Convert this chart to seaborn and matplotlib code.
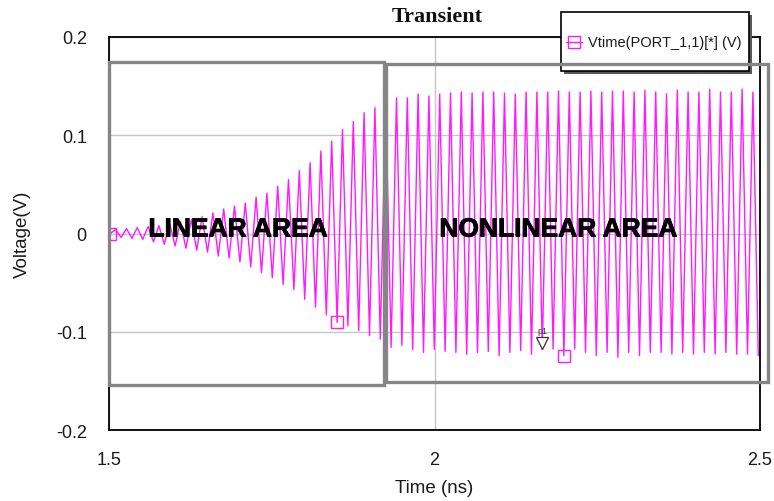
import numpy as np
import pandas as pd
import matplotlib
matplotlib.use("Agg")
import matplotlib.pyplot as plt
import matplotlib.transforms as mtransforms
import matplotlib.patheffects as pe
from matplotlib.patches import Rectangle
from matplotlib.lines import Line2D
import seaborn as sns

# ---- transient waveform: per-cycle extremes (V) ----
peak_v = [0.004, 0.005, 0.006, 0.007, 0.008, 0.010, 0.012, 0.014, 0.017, 0.021,
          0.025, 0.028, 0.031, 0.037, 0.041, 0.048, 0.055, 0.064, 0.072, 0.084,
          0.094, 0.106, 0.114, 0.123, 0.128, 0.135, 0.138, 0.138, 0.142, 0.140,
          0.142, 0.143, 0.144, 0.143, 0.144, 0.144, 0.143, 0.142, 0.144, 0.144,
          0.144, 0.145, 0.144, 0.144, 0.145, 0.144, 0.145, 0.145, 0.144, 0.146,
          0.144, 0.142, 0.146, 0.144, 0.144, 0.147, 0.144, 0.144, 0.147, 0.144]
trough_v = [-0.004, -0.005, -0.006, -0.0085, -0.011, -0.0126, -0.015, -0.017, -0.019, -0.023,
            -0.025, -0.029, -0.034, -0.040, -0.045, -0.052, -0.057, -0.067, -0.075, -0.083,
            -0.0905, -0.094, -0.099, -0.104, -0.1075, -0.116, -0.114, -0.118, -0.121, -0.118,
            -0.120, -0.121, -0.123, -0.121, -0.120, -0.1245, -0.121, -0.119, -0.123, -0.118,
            -0.1175, -0.1244, -0.1175, -0.121, -0.1244, -0.121, -0.126, -0.121, -0.1244, -0.121,
            -0.121, -0.1227, -0.121, -0.1227, -0.121, -0.1227, -0.121, -0.1227, -0.1227, -0.1244]
start_v = 0.0
t_first = 1.502        # ns, first sample
half_period = 0.008295 # ns, sample spacing (half an oscillation period)

x_ticks = [1.5, 2.0, 2.5]
x_tick_labels = ["1.5", "2", "2.5"]
y_ticks = [-0.2, -0.1, 0.0, 0.1, 0.2]
y_tick_labels = ["-0.2", "-0.1", "0", "0.1", "0.2"]

# interleave samples: start, peak, trough, peak, trough, ...
volts = [start_v]
for p, t in zip(peak_v, trough_v):
    volts += [p, t]
volts = np.array(volts)
times = t_first + half_period * np.arange(len(volts))
df = pd.DataFrame({"time": times, "voltage": volts})

sns.set_theme(style="white")
plt.rcParams["font.family"] = ["Liberation Sans", "DejaVu Sans"]

fig = plt.figure(figsize=(7.74, 5.02), dpi=100)
ax = fig.add_axes([109 / 774, 1 - 431 / 502, 651 / 774, 393 / 502])

trace_color = "#ff1aff"
sns.lineplot(data=df, x="time", y="voltage", ax=ax, sort=False, estimator=None,
             color=trace_color, linewidth=1.0, marker="s", markevery=42,
             markersize=8, markerfacecolor="none", markeredgecolor=trace_color,
             markeredgewidth=1.0, zorder=3)

ax.set_xlim(1.5, 2.5)
ax.set_ylim(-0.2, 0.2)
ax.set_xticks(x_ticks, x_tick_labels)
ax.set_yticks(y_ticks, y_tick_labels)
ax.tick_params(length=0, labelsize=13, labelcolor="#1a1a1a")
ax.tick_params(axis="y", pad=16)
ax.tick_params(axis="x", pad=15)
ax.grid(True, color="#c6c6c6", linewidth=1.0)
for s in ax.spines.values():
    s.set_color("black")
    s.set_linewidth(1.3)
    s.set_zorder(4)

ax.set_xlabel("Time (ns)", fontsize=13.5, color="#1a1a1a")
ax.set_ylabel("Voltage(V)", fontsize=13.5, color="#1a1a1a")
ax.xaxis.set_label_coords(0.5, (431 - 489) / 393)
ax.xaxis.label.set_va("center")
ax.yaxis.set_label_coords((22 - 109) / 651, 0.5)
ax.yaxis.label.set_va("center")

ax.text(0.5 + 2.5 / 651, (431 - 17) / 393, "Transient", transform=ax.transAxes,
        ha="center", va="center", fontsize=16, fontweight="bold",
        family=["Liberation Serif", "DejaVu Serif"], color="#111111")

# marker flag "p1" on a trough of the steady-state region
i_flag = 2 + 2 * 39
flag_tr = mtransforms.offset_copy(ax.transData, fig=fig, x=0, y=6, units="dots")
ax.plot([times[i_flag]], [volts[i_flag]], marker="v", markersize=8,
        markerfacecolor="white", markeredgecolor="#333333", markeredgewidth=0.9,
        transform=flag_tr, zorder=6, clip_on=False)
label_tr = mtransforms.offset_copy(ax.transData, fig=fig, x=0, y=19, units="dots")
ax.text(times[i_flag], volts[i_flag], "p1", transform=label_tr, ha="center",
        va="center", fontsize=6.5, color="#333333", zorder=6)

# legend box with drop shadow
fx = lambda px: px / 774
fy = lambda py: 1 - py / 502
ax.add_patch(Rectangle((fx(564), fy(75)), 188 / 774, 59 / 502, transform=fig.transFigure,
                       facecolor="#5a5a5a", edgecolor="none", clip_on=False, zorder=7))
ax.add_patch(Rectangle((fx(561), fy(72)), 188 / 774, 59 / 502, transform=fig.transFigure,
                       facecolor="white", edgecolor="black", linewidth=1.2,
                       clip_on=False, zorder=8))
ax.add_line(Line2D([fx(566), fx(582)], [fy(43), fy(43)], transform=fig.transFigure,
                   color=trace_color, linewidth=1.0, clip_on=False, zorder=9))
ax.add_line(Line2D([fx(574)], [fy(43)], transform=fig.transFigure, linestyle="none",
                   marker="s", markersize=8, markerfacecolor="none",
                   markeredgecolor=trace_color, markeredgewidth=1.0,
                   clip_on=False, zorder=9))
ax.text(fx(588), fy(43), "Vtime(PORT_1,1)[*] (V)", transform=fig.transFigure,
        ha="left", va="center", fontsize=10.5, color="#1a1a1a", zorder=9)

# region outlines
box_kw = dict(facecolor="none", edgecolor="#858585", linewidth=2.4,
              clip_on=False, zorder=10)
ax.add_patch(Rectangle((1.5, -0.1542), 0.4224, 0.3288, **box_kw))
ax.add_patch(Rectangle((1.9255, -0.1511), 0.5868, 0.3236, **box_kw))

label_kw = dict(ha="center", va="center", fontsize=19, fontweight="bold",
                color="black", zorder=11,
                path_effects=[pe.withStroke(linewidth=0.6, foreground="black")])
ax.text(1.698, 0.004, "LINEAR AREA", **label_kw)
ax.text(2.190, 0.004, "NONLINEAR AREA", **label_kw)

fig.savefig("out.png", dpi=100)
